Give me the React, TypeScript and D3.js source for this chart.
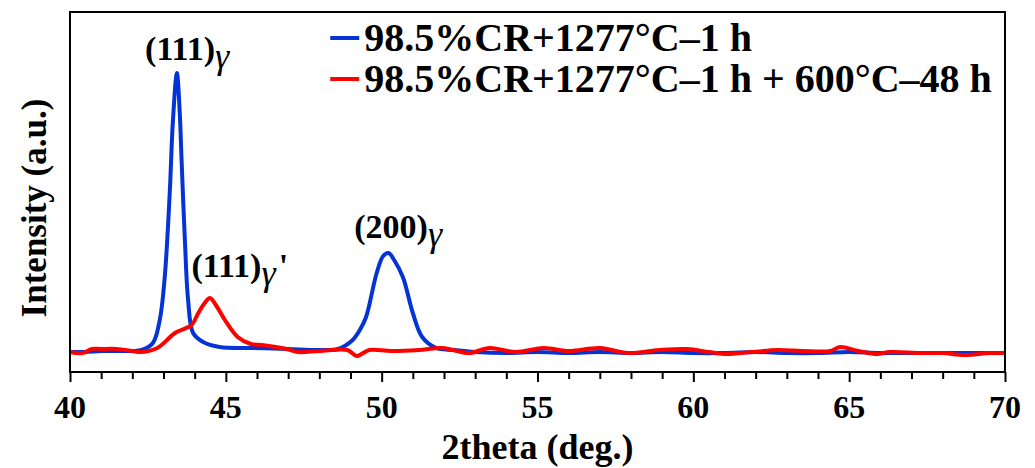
import { useEffect, useRef } from 'react';
import * as d3 from 'd3';

// 2theta (deg.) and intensity (a.u.)
const blueX = [40.0, 40.5, 41.0, 41.5, 42.0, 42.3, 42.66, 42.88, 43.04, 43.2, 43.3, 43.43, 43.52, 43.58, 43.69, 43.79, 43.95, 44.27, 44.8, 45.9, 47.0, 48.0, 48.6, 49.07, 49.3, 49.5, 49.84, 50.05, 50.22, 50.4, 50.68, 51.0, 51.3, 51.75, 52.3, 53.0, 54.0, 55.0, 56.0, 57.0, 58.0, 59.0, 60.0, 61.0, 62.0, 63.0, 64.0, 65.0, 66.0, 67.0, 68.0, 69.0, 70.0];
const blueY = [0, 0, 1, 1, 1, 2, 9, 32, 75, 159, 230, 279, 240, 192, 109, 52, 19, 10, 5, 4, 3, 2, 3, 12, 22, 35, 79, 96, 99, 92, 75, 39, 15, 4, 2, 0, -1, 0, -1, 0, -1, 0, -1, -1, 0, -1, -1, 0, -1, -1, -1, -1, -1];

const redX = [40.0, 40.4, 40.7, 41.0, 41.5, 42.0, 42.3, 42.8, 43.37, 43.9, 44.1, 44.3, 44.49, 44.7, 44.97, 45.38, 45.8, 46.15, 46.95, 47.3, 48.0, 48.9, 49.2, 49.6, 50.3, 51.2, 51.95, 52.8, 53.46, 54.3, 55.2, 56.0, 57.0, 57.9, 58.9, 59.8, 60.5, 61.0, 61.9, 62.7, 63.5, 64.4, 64.7, 65.3, 65.9, 66.3, 67.3, 68.0, 68.7, 69.5, 70.0];
const redY = [0, -1, 3, 3, 3, 1, 0, 4, 19, 27, 38, 48, 54, 46, 32, 15, 8, 7, 3, 0, 1, 2, -4, 2, 1, 2, 4, -1, 4, 0, 4, 1, 4, -1, 2, 3, 0, -2, 0, 2, 1, 1, 5, 1, -2, 0, -1, -1, -3, -1, -1];

const seriesNames = ['98.5%CR+1277°C–1 h', '98.5%CR+1277°C–1 h + 600°C–48 h'];
const seriesColors = ['#0433d6', '#ff0000'];
const xMajorTicks = [40, 45, 50, 55, 60, 65, 70];

// peak annotations: [label, subscript, prime, x (deg), intensity]
const peakLabels: [string, string, string, number, number][] = [
  ['(111)', 'γ', '', 42.41, 292],
  ['(111)', 'γ', "'", 43.9, 75],
  ['(200)', 'γ', '', 49.12, 114],
];

const W = 1035;
const H = 468;

function XrdChart() {
  const svgRef = useRef<SVGSVGElement>(null);

  useEffect(() => {
    const svg = d3.select(svgRef.current);
    svg.selectAll('*').remove();

    const margin = { top: 12, right: 30, bottom: 96, left: 70 };
    const width = W - margin.left - margin.right;
    const height = H - margin.top - margin.bottom;
    const font = "'Liberation Serif', 'Times New Roman', serif";

    const g = svg.append('g').attr('transform', `translate(${margin.left},${margin.top})`);

    const x = d3.scaleLinear().domain([40, 70]).range([0, width]);
    const y = d3.scaleLinear().domain([-20, 340]).range([height, 0]);

    const line = d3.line<[number, number]>()
      .x(d => x(d[0]))
      .y(d => y(d[1]))
      .curve(d3.curveCatmullRom.alpha(0.5));

    const blue = blueX.map((v, i) => [v, blueY[i]] as [number, number]);
    const red = redX.map((v, i) => [v, redY[i]] as [number, number]);

    [blue, red].forEach((data, i) => {
      g.append('path')
        .datum(data)
        .attr('fill', 'none')
        .attr('stroke', seriesColors[i])
        .attr('stroke-width', 4)
        .attr('stroke-linejoin', 'round')
        .attr('d', line);
    });

    // frame
    g.append('rect')
      .attr('width', width)
      .attr('height', height)
      .attr('fill', 'none')
      .attr('stroke', '#000')
      .attr('stroke-width', 2);

    // x axis, minor ticks every degree
    const xAxis = g.append('g')
      .attr('transform', `translate(0,${height})`)
      .call(d3.axisBottom(x).tickValues(d3.range(40, 70.01, 1)).tickSize(7).tickFormat(() => ''));
    xAxis.select('.domain').remove();
    xAxis.selectAll('.tick line').attr('stroke', '#000').attr('stroke-width', 2);
    xAxis.selectAll<SVGGElement, number>('.tick')
      .filter(d => xMajorTicks.includes(d))
      .select('line')
      .attr('y2', 10);

    g.selectAll('.xlab')
      .data(xMajorTicks)
      .join('text')
      .attr('class', 'xlab')
      .attr('x', d => x(d))
      .attr('y', height + 46)
      .attr('text-anchor', 'middle')
      .attr('font-family', font)
      .attr('font-weight', 'bold')
      .attr('font-size', 32)
      .text(d => d);

    g.append('text')
      .attr('x', width / 2)
      .attr('y', height + 87)
      .attr('text-anchor', 'middle')
      .attr('font-family', font)
      .attr('font-weight', 'bold')
      .attr('font-size', 36)
      .text('2theta (deg.)');

    g.append('text')
      .attr('transform', `translate(-24,${height / 2 + 16}) rotate(-90)`)
      .attr('text-anchor', 'middle')
      .attr('font-family', font)
      .attr('font-weight', 'bold')
      .attr('font-size', 35)
      .text('Intensity (a.u.)');

    // peak labels
    peakLabels.forEach(([main, sub, prime, px, py]) => {
      const t = g.append('text')
        .attr('x', x(px))
        .attr('y', y(py))
        .attr('font-family', font)
        .attr('font-weight', 'bold')
        .attr('font-size', 34);
      t.append('tspan').text(main);
      t.append('tspan')
        .attr('dy', 8)
        .attr('font-weight', 'normal')
        .attr('font-style', 'italic')
        .attr('font-size', 36)
        .text(sub);
      if (prime) {
        t.append('tspan')
          .attr('dy', -8)
          .attr('dx', 3)
          .text(prime);
      }
    });

    // legend
    const legend = g.append('g').attr('transform', `translate(${x(48.35)},0)`);
    seriesNames.forEach((name, i) => {
      const row = legend.append('g').attr('transform', `translate(0,${26 + i * 41})`);
      row.append('line')
        .attr('x1', 0)
        .attr('x2', 29)
        .attr('stroke', seriesColors[i])
        .attr('stroke-width', 4);
      row.append('text')
        .attr('x', 34)
        .attr('y', 13)
        .attr('font-family', font)
        .attr('font-weight', 'bold')
        .attr('font-size', 40)
        .text(name);
    });
  }, []);

  return <svg ref={svgRef} width={W} height={H} style={{ display: 'block', background: '#fff' }} />;
}

export default function App() {
  return (
    <div style={{ position: 'absolute', left: 0, top: 0 }}>
      <XrdChart />
    </div>
  );
}
